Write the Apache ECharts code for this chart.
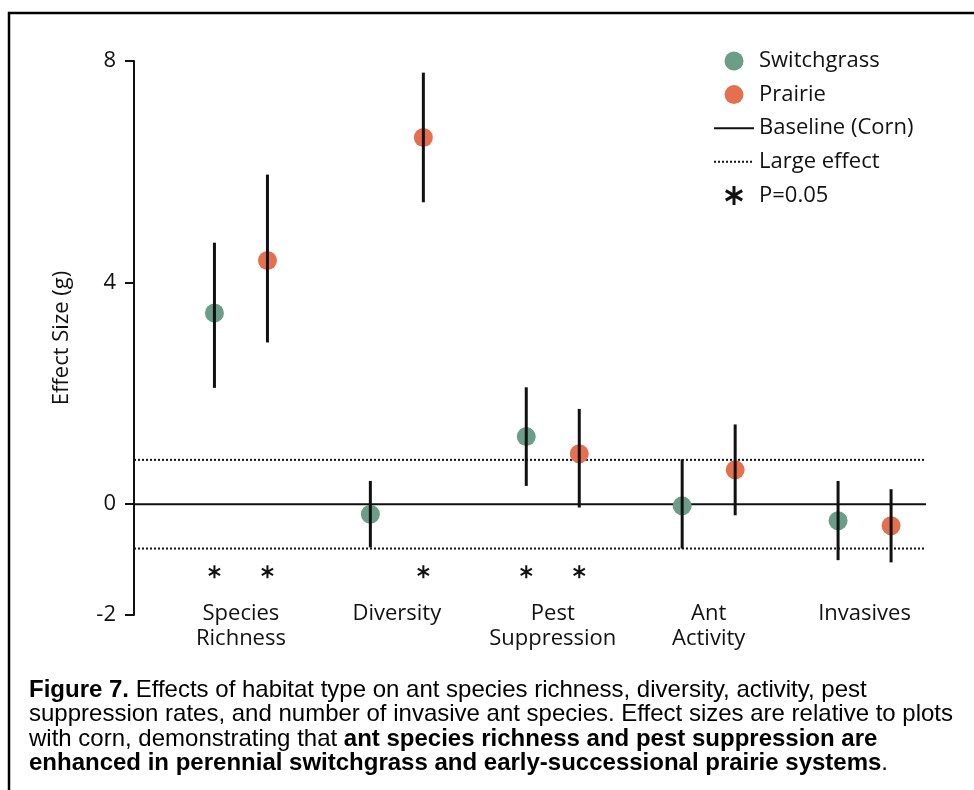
<!DOCTYPE html>
<html>
<head>
<meta charset="utf-8">
<script src="https://cdn.jsdelivr.net/npm/echarts@6/dist/echarts.min.js"></script>
<style>
html,body{margin:0;padding:0;background:#fff;}
#chart{width:974px;height:790px;}
</style>
</head>
<body>
<div id="chart"></div>
<script>
// ---- data ----
var categories = ['Species\nRichness', 'Diversity', 'Pest\nSuppression', 'Ant\nActivity', 'Invasives'];
var categoryPos = [1, 2, 3, 4, 5];
var switchgrassMean = [3.45, -0.18, 1.22, -0.03, -0.30];
var switchgrassLow  = [2.10, -0.78, 0.33, -0.80, -1.01];
var switchgrassHigh = [4.72, 0.42, 2.11, 0.81, 0.42];
var prairieMean = [4.40, 6.62, 0.91, 0.62, -0.39];
var prairieLow  = [2.92, 5.45, -0.06, -0.20, -1.05];
var prairieHigh = [5.95, 7.79, 1.72, 1.44, 0.27];
var switchgrassSig = [1, 0, 1, 0, 0];
var prairieSig     = [1, 1, 1, 0, 0];
var sigLevel = -1.22;
var baselineValue = 0;
var largeEffect = 0.8;
var yTicks = [-2, 0, 4, 8];
var yMin = -2, yMax = 8;
var xMin = 0.314, xMax = 5.394;
var offset = 0.17;

var sgColor = '#6b9d88';
var prColor = '#e4704f';

function pts(means, dx) {
  return means.map(function (m, i) { return [categoryPos[i] + dx, m]; });
}
function bars(lows, highs, dx) {
  return lows.map(function (l, i) { return [categoryPos[i] + dx, l, highs[i]]; });
}
function sig(flags, dx) {
  var out = [];
  flags.forEach(function (f, i) { if (f) out.push([categoryPos[i] + dx, sigLevel]); });
  return out;
}
var errData = bars(switchgrassLow, switchgrassHigh, -offset).concat(bars(prairieLow, prairieHigh, offset));
var sigData = sig(switchgrassSig, -offset).concat(sig(prairieSig, offset));

var asteriskPath = 'path://M-1.1,-7L1.1,-7L1.1,7L-1.1,7Z' +
  'M5.512,-4.452L6.612,-2.548L-5.512,4.452L-6.612,2.548Z' +
  'M6.612,2.548L5.512,4.452L-6.612,-2.548L-5.512,-4.452Z';

var font = 'Open Sans';
var noSymbol = {color: 'rgba(0,0,0,0)', borderWidth: 0};
var chart = echarts.init(document.getElementById('chart'), null, {renderer: 'canvas'});
chart.setOption({
  animation: false,
  backgroundColor: '#fff',
  textStyle: {fontFamily: font},
  grid: {left: 134, right: 48, top: 61, bottom: 175, containLabel: false},
  legend: {
    orient: 'vertical',
    left: 713, top: 50, padding: 0,
    itemWidth: 40, itemHeight: 19, itemGap: 11.6,
    textStyle: {fontFamily: font, fontSize: 22, color: '#111'},
    data: [
      'Switchgrass', 'Prairie',
      {name: 'Baseline (Corn)', itemStyle: noSymbol},
      {name: 'Large effect', itemStyle: noSymbol},
      'P=0.05'
    ]
  },
  xAxis: {
    type: 'value', min: xMin, max: xMax,
    splitLine: {show: false},
    axisLine: {show: false},
    axisTick: {show: false},
    axisLabel: {
      customValues: categoryPos,
      margin: -14,
      fontFamily: font, fontSize: 22, color: '#111', lineHeight: 25,
      formatter: function (v) { var i = Math.round(v) - 1; return categories[i] || ''; }
    }
  },
  yAxis: {
    type: 'value', min: yMin, max: yMax,
    name: 'Effect Size (g)', nameLocation: 'middle', nameGap: 61, nameRotate: 90,
    nameTextStyle: {fontFamily: font, fontSize: 22, color: '#111'},
    splitLine: {show: false},
    axisLine: {show: true, lineStyle: {color: '#111', width: 2}},
    axisTick: {show: true, customValues: yTicks, length: 9, lineStyle: {color: '#111', width: 2}},
    axisLabel: {customValues: yTicks, margin: 18, fontFamily: font, fontSize: 22, color: '#111'}
  },
  series: [
    {
      name: 'Baseline (Corn)', type: 'line', symbol: 'none', z: 1,
      lineStyle: {color: '#111', width: 2}, itemStyle: {color: '#111'},
      data: [[xMin, baselineValue], [xMax, baselineValue]]
    },
    {
      name: 'Large effect', type: 'line', symbol: 'none', z: 1,
      lineStyle: {color: '#111', width: 2, type: [2, 2]}, itemStyle: {color: '#111'},
      data: [[xMin, largeEffect], [xMax, largeEffect]]
    },
    {
      name: 'Large effect', type: 'line', symbol: 'none', z: 1,
      lineStyle: {color: '#111', width: 2, type: [2, 2]}, itemStyle: {color: '#111'},
      data: [[xMin, -largeEffect], [xMax, -largeEffect]]
    },
    {
      name: 'Switchgrass', type: 'scatter', symbol: 'circle', symbolSize: 19, z: 2,
      itemStyle: {color: sgColor, opacity: 1},
      data: pts(switchgrassMean, -offset)
    },
    {
      name: 'Prairie', type: 'scatter', symbol: 'circle', symbolSize: 19, z: 2,
      itemStyle: {color: prColor, opacity: 1},
      data: pts(prairieMean, offset)
    },
    {
      name: 'errorbars', type: 'custom', z: 3,
      renderItem: function (params, api) {
        var p1 = api.coord([api.value(0), api.value(1)]);
        var p2 = api.coord([api.value(0), api.value(2)]);
        return {type: 'line', shape: {x1: p1[0], y1: p1[1], x2: p2[0], y2: p2[1]},
                style: {stroke: '#111', lineWidth: 3}};
      },
      encode: {x: 0, y: [1, 2]},
      data: errData
    },
    {
      name: 'P=0.05', type: 'scatter', symbol: asteriskPath, symbolSize: 13, symbolKeepAspect: true, z: 2,
      itemStyle: {color: '#111', opacity: 1},
      data: sigData
    }
  ],
  graphic: [
    {type: 'rect', shape: {x: 9, y: 13, width: 1000, height: 800}, style: {fill: 'none', stroke: '#000', lineWidth: 2.5}, z: 100, silent: true},
    {
      type: 'text', left: 29, top: 678, z: 100,
      style: {
        text: '{b|Figure 7.} Effects of habitat type on ant species richness, diversity, activity, pest\n' +
              'suppression rates, and number of invasive ant species. Effect sizes are relative to plots\n' +
              'with corn, demonstrating that {b|ant species richness and pest suppression are}\n' +
              '{b|enhanced in perennial switchgrass and early-successional prairie systems}.',
        font: '24px "Liberation Sans"', fill: '#000', lineHeight: 24.5,
        rich: {b: {fontWeight: 'bold', fontFamily: 'Liberation Sans', fontSize: 24, lineHeight: 24.5}}
      }
    }
  ]
});
</script>
</body>
</html>
